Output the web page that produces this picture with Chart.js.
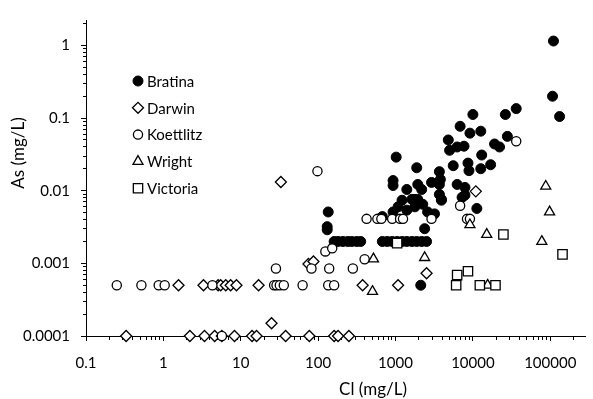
<!DOCTYPE html>
<html>
<head>
<meta charset="utf-8">
<script src="https://cdn.jsdelivr.net/npm/chart.js@4/dist/chart.umd.min.js"></script>
<style>
  html, body { margin: 0; padding: 0; background: #fff; }
  #wrap { width: 593px; height: 399px; }
</style>
</head>
<body>
<div id="wrap"><canvas id="chart" width="593" height="399"></canvas></div>
<script>
// [Cl (mg/L), As (mg/L)]
const bratina = [
  [110000, 1.15], [107000, 0.2], [132000, 0.105],
  [36300, 0.135], [26300, 0.112], [10000, 0.112],
  [6840, 0.077], [9160, 0.062], [12650, 0.066], [27900, 0.056],
  [4810, 0.05], [5000, 0.036], [6260, 0.04], [7680, 0.041], [19050, 0.044], [22100, 0.04],
  [1020, 0.029], [1880, 0.0207], [5570, 0.0221], [8640, 0.024], [13000, 0.031],
  [8900, 0.0189], [12650, 0.0201], [16950, 0.0228],
  [3690, 0.0183], [3800, 0.0143], [930, 0.0138], [930, 0.0118], [1400, 0.0104],
  [1940, 0.0122], [2180, 0.0104], [2920, 0.013], [3690, 0.0122], [6260, 0.0122],
  [7900, 0.0111], [7900, 0.0087],
  [1630, 0.0076], [1940, 0.0076], [3690, 0.0089], [3920, 0.0076], [7250, 0.0081],
  [1215, 0.0074], [1780, 0.0076], [2250, 0.0065], [1780, 0.006], [1400, 0.0054],
  [2600, 0.0051], [3190, 0.0048], [3920, 0.0074], [11250, 0.0057], [676, 0.0044],
  [930, 0.0051], [2380, 0.003], [1080, 0.006],
  [135, 0.0051], [131, 0.0032], [131, 0.0029],
  [161, 0.002], [181, 0.002], [209, 0.002], [242, 0.002], [272, 0.002], [315, 0.002], [355, 0.002],
  [676, 0.002], [782, 0.002], [906, 0.002], [1050, 0.002], [1215, 0.002], [1400, 0.002],
  [1630, 0.002], [1880, 0.002], [2180, 0.002], [2520, 0.002],
  [2120, 0.0005]
];
const darwin = [
  [1.57, 0.0005], [3.3, 0.0005], [5.1, 0.0005], [5.5, 0.0005], [6.4, 0.0005],
  [7.4, 0.0005], [8.8, 0.0005], [17, 0.0005], [376, 0.0005], [1080, 0.0005],
  [2520, 0.00073], [10900, 0.0098], [33, 0.0132], [25, 0.00015], [75, 0.00098], [87, 0.00106],
  [0.33, 0.0001], [2.2, 0.0001], [3.4, 0.0001], [4.6, 0.0001], [5.7, 0.0001], [8.3, 0.0001],
  [14, 0.0001], [16, 0.0001], [38, 0.0001], [77, 0.0001], [161, 0.0001], [181, 0.0001], [250, 0.0001]
];
const koettlitz = [
  [0.25, 0.0005], [0.52, 0.0005], [0.87, 0.0005], [1.04, 0.0005], [4.3, 0.0005],
  [27, 0.0005], [29, 0.0005], [32, 0.0005], [36, 0.0005], [63, 0.0005], [135, 0.0005], [161, 0.0005],
  [28.5, 0.00085], [82, 0.00085], [139, 0.00085], [281, 0.00085],
  [124, 0.00146], [152, 0.00161], [399, 0.00114], [98, 0.0186],
  [423, 0.0041], [583, 0.0041], [656, 0.0041], [906, 0.0041], [1145, 0.0041], [1250, 0.0041],
  [2920, 0.0041], [8390, 0.0041], [9160, 0.0041], [6840, 0.0062], [36300, 0.048],
  [5.7, 0.0001]
];
const wright = [
  [504, 0.00041], [519, 0.00115], [2380, 0.0012], [9160, 0.0034], [15100, 0.0025],
  [15500, 0.0005], [87400, 0.0115], [98000, 0.0051], [77800, 0.002]
];
const victoria = [
  [6260, 0.00069], [8640, 0.00078], [6080, 0.0005], [12300, 0.0005], [19600, 0.0005],
  [24800, 0.0025], [144000, 0.00133], [1050, 0.0019]
];

const seriesNames = ["Bratina", "Darwin", "Koettlitz", "Wright", "Victoria"];
const xTickValues = [0.1, 1, 10, 100, 1000, 10000, 100000];
const xTickLabels = ["0.1", "1", "10", "100", "1000", "10000", "100000"];
const yTickValues = [0.0001, 0.001, 0.01, 0.1, 1];
const yTickLabels = ["0.0001", "0.001", "0.01", "0.1", "1"];
const xTitle = "Cl (mg/L)";
const yTitle = "As (mg/L)";

const FONT = "Lato, 'Open Sans', sans-serif";
const toXY = (arr) => arr.map(([x, y]) => ({ x, y }));

// minor + major log ticks (1..9 x 10^n)
const logTicks = (min, max) => {
  const out = [];
  for (let e = Math.floor(Math.log10(min)); e <= Math.ceil(Math.log10(max)); e++) {
    for (let m = 1; m <= 9; m++) {
      const v = Number((m * Math.pow(10, e)).toPrecision(3));
      if (v >= min * 0.999 && v <= max * 1.001) out.push({ value: v });
    }
  }
  return out;
};
const isMajor = (values, v) => values.some(t => Math.abs(t - v) / t < 1e-6);
const labelFrom = (values, labels) => (v) => {
  const i = values.findIndex(t => Math.abs(t - v) / t < 1e-6);
  return i >= 0 ? labels[i] : "";
};

const styles = [
  { pointStyle: "circle", pointRadius: 5, backgroundColor: "#000", borderColor: "#000", borderWidth: 1 },
  { pointStyle: "rectRot", pointRadius: 5.5, backgroundColor: "#fff", borderColor: "#000", borderWidth: 1.3 },
  { pointStyle: "circle", pointRadius: 4.6, backgroundColor: "#fff", borderColor: "#000", borderWidth: 1.3 },
  { pointStyle: "triangle", pointRadius: 5.8, backgroundColor: "#fff", borderColor: "#000", borderWidth: 1.3 },
  { pointStyle: "rect", pointRadius: 6.6, backgroundColor: "#fff", borderColor: "#000", borderWidth: 1.3 },
];
const allData = [bratina, darwin, koettlitz, wright, victoria];

const datasets = allData.map((d, i) => ({
  label: seriesNames[i],
  data: toXY(d),
  order: 5 - i,
  clip: false,
  pointHoverRadius: styles[i].pointRadius,
  ...styles[i],
}));

// legend and axis titles
const overlay = {
  id: "overlay",
  afterDraw(chart) {
    const ctx = chart.ctx;
    ctx.save();
    ctx.fillStyle = "#000";
    ctx.font = "17px " + FONT;
    ctx.textAlign = "center";
    ctx.textBaseline = "middle";
    ctx.fillText(xTitle, 373, 390);
    ctx.save();
    ctx.translate(19, 153);
    ctx.rotate(-Math.PI / 2);
    ctx.fillText(yTitle, 0, 0);
    ctx.restore();

    ctx.font = "15px " + FONT;
    ctx.textAlign = "left";
    const lx = 138, ly0 = 81, step = 26.8;
    seriesNames.forEach((name, i) => {
      const y = ly0 + i * step, s = styles[i], r = s.pointRadius;
      ctx.beginPath();
      if (s.pointStyle === "circle") ctx.arc(lx, y, r, 0, Math.PI * 2);
      else if (s.pointStyle === "rectRot") { ctx.moveTo(lx - r, y); ctx.lineTo(lx, y - r); ctx.lineTo(lx + r, y); ctx.lineTo(lx, y + r); ctx.closePath(); }
      else if (s.pointStyle === "triangle") {
        const a = r * Math.sqrt(3) / 2;
        ctx.moveTo(lx, y - r); ctx.lineTo(lx + a, y + r / 2); ctx.lineTo(lx - a, y + r / 2); ctx.closePath();
      } else { const h = r * Math.SQRT1_2; ctx.rect(lx - h, y - h, 2 * h, 2 * h); }
      ctx.fillStyle = s.backgroundColor;
      ctx.fill();
      ctx.lineWidth = s.borderWidth;
      ctx.strokeStyle = "#000";
      ctx.stroke();
      ctx.fillStyle = "#000";
      ctx.fillText(name, 147, y + 1);
    });
    ctx.restore();
  }
};

const gridFor = (values, minorDash) => ({
  display: true, drawOnChartArea: false, drawTicks: true, tickLength: 5,
  color: "#000", lineWidth: 1,
  // minor ticks shorter than major ones
  tickBorderDash: (c) => (c.tick && isMajor(values, c.tick.value)) ? [] : minorDash,
});

new Chart(document.getElementById("chart"), {
  type: "scatter",
  data: { datasets },
  options: {
    responsive: false,
    animation: false,
    devicePixelRatio: 1,
    layout: { padding: { top: 15, left: 0, right: 0, bottom: 0 } },
    plugins: { legend: { display: false }, tooltip: { enabled: false } },
    scales: {
      x: {
        type: "logarithmic",
        bounds: "data",
        position: "bottom",
        min: 0.1,
        max: 282000,
        grid: gridFor(xTickValues, [3, 50]),
        border: { display: true, color: "#000", width: 1 },
        afterBuildTicks: (scale) => { scale.ticks = logTicks(0.1, 282000); },
        afterFit: (scale) => { scale.height = 63; },
        ticks: {
          autoSkip: false, maxRotation: 0, minRotation: 0, padding: 13,
          color: "#000", font: { family: FONT, size: 15 },
          callback: labelFrom(xTickValues, xTickLabels),
        },
      },
      y: {
        type: "logarithmic",
        bounds: "data",
        position: "left",
        min: 0.0001,
        max: 2.24,
        grid: gridFor(yTickValues, [0, 2, 3, 50]),
        border: { display: true, color: "#000", width: 1 },
        afterBuildTicks: (scale) => { scale.ticks = logTicks(0.0001, 2.24); },
        afterFit: (scale) => { scale.width = 86; },
        ticks: {
          autoSkip: false, padding: 11,
          color: "#000", font: { family: FONT, size: 15 },
          callback: labelFrom(yTickValues, yTickLabels),
        },
      },
    },
  },
  plugins: [overlay],
});
</script>
</body>
</html>
